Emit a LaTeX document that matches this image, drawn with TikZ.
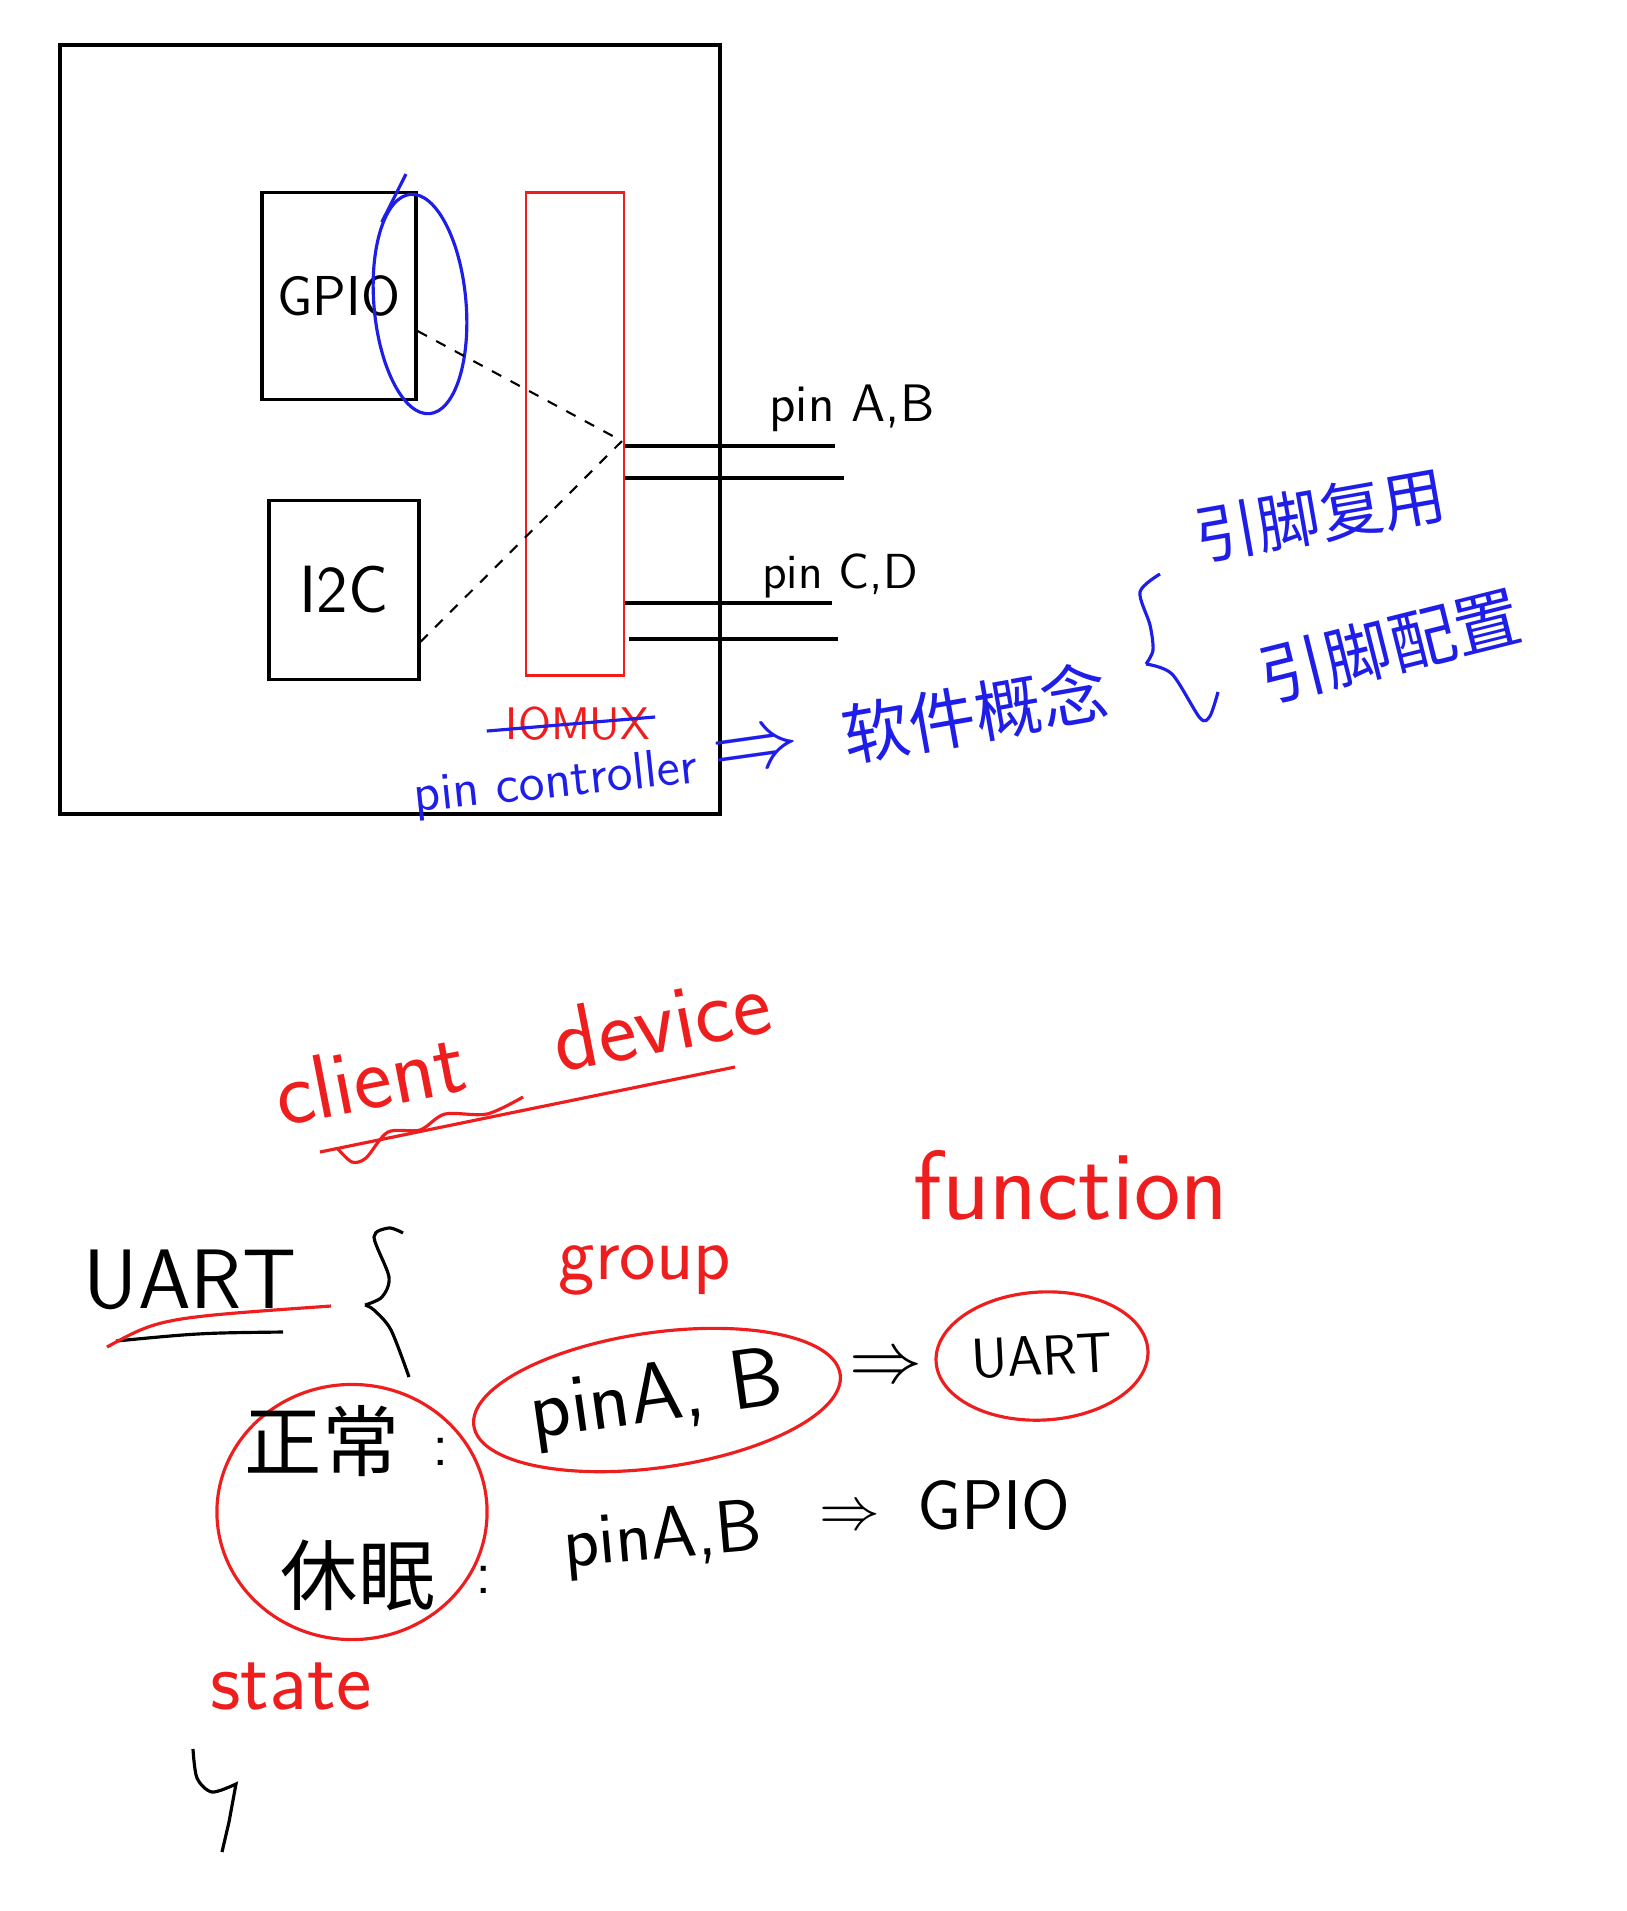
\documentclass[tikz,border=0pt]{standalone}
\usepackage{fontspec}
\newfontfamily\cjk{Noto Sans CJK SC}
\usetikzlibrary{shapes.geometric}
\definecolor{penred}{RGB}{238,30,30}
\definecolor{penblue}{RGB}{30,30,232}
\tikzset{every path/.style={line width=0.9pt}}
\tikzset{
  hand/.style={font=\sffamily\fontsize{#1}{#1}\selectfont, inner sep=1pt},
  han/.style={font=\cjk\fontsize{#1}{#1}\selectfont, inner sep=1pt},
  blockbox/.style={draw, inner sep=0pt, hand=16},
  redring/.style={draw=penred, ellipse, inner sep=0pt},
  dotline/.style={line width=0.6pt, dash pattern=on 3pt off 3pt},
}

\begin{document}
\begin{tikzpicture}[x=0.01cm, y=-0.01cm]
\useasboundingbox (0,0) rectangle (1627,1911);

\draw (60,45) rectangle (720,814);
\node[blockbox, minimum width=1.54cm, minimum height=2.07cm] (gpio) at (339,296) {GPIO};
\node[blockbox, minimum width=1.50cm, minimum height=1.79cm, hand=19] (i2c) at (344,590) {I2C};
\node[draw=penred, line width=0.7pt, minimum width=0.98cm, minimum height=4.83cm] (mux) at (575,434) {};
\node[draw=penblue, ellipse, minimum width=0.92cm, minimum height=2.2cm, rotate=5] (sel) at (420,304) {};
\draw[penblue] (sel.110) -- (406,174);

\coordinate (hub) at (622,441);
\draw[dotline] (gpio.-24) -- (hub) -- (i2c.-34);

\draw (mux.east) ++(0,12) -- ++(210,0);
\draw (mux.east) ++(0,44) -- ++(219,0);
\draw (mux.east) ++(0,169) -- ++(207,0);
\draw (mux.east) ++(4,205) -- ++(209,0);
\node[hand=15] (pinab) at (852,408) {pin A,B};
\node[hand=14] (pincd) at (840,576) {pin C,D};

\node[hand=13, text=penred] (iomux) at (578,724) {IOMUX};
\draw[penblue] ([xshift=-4pt,yshift=-2pt]iomux.west) -- ([yshift=2pt]iomux.east);
\node[hand=15, text=penblue, rotate=6] (pctl) at (556,784) {pin controller};
\node[text=penblue, font=\fontsize{24}{24}\selectfont, rotate=8] (imp) at (757,753) {$\Rightarrow$};
\node[han=19, text=penblue, rotate=10] (soft) at (975,713) {软件概念};
\draw[penblue] plot[smooth] coordinates {(1160,574) (1140,592) (1150,625) (1153,650) (1146,664)};
\draw[penblue] plot[smooth] coordinates {(1146,664) (1172,674) (1200,718) (1210,716) (1218,692)};
\node[han=18, text=penblue, rotate=10] (mux1) at (1320,515) {引脚复用};
\node[han=19, text=penblue, rotate=14] (mux2) at (1390,646) {引脚配置};

\node[hand=26, text=penred, rotate=11] (cdev) at (522,1048) {client\quad device};
\draw[penred] (320,1152) -- (735,1067);
\draw[penred] plot[smooth] coordinates {(338,1149) (352,1162) (366,1158) (388,1132) (420,1130) (445,1114) (487,1114) (523,1097)};

\node[hand=24] (uart) at (190,1280) {UART};
\draw (116,1341) .. controls (200,1333) .. (283,1332);
\draw[penred] (107,1347) .. controls (160,1318) .. (331,1306);
\draw plot[smooth] coordinates {(403,1233) (389,1228) (374,1237) (389,1277) (382,1297) (365,1305)};
\draw plot[smooth] coordinates {(365,1305) (374,1310) (391,1330) (409,1377)};

\node[hand=22, text=penred] (grp) at (645,1270) {group};
\node[hand=28, text=penred] (fn) at (1071,1185) {function};
\node[redring, hand=24, rotate=8, minimum width=3.0cm, minimum height=1.35cm] (grpab) at (657,1400) {pinA, B};
\node[font=\fontsize{22}{22}\selectfont] (to1) at (886,1369) {$\Rightarrow$};
\node[redring, hand=16, rotate=3, minimum width=2.12cm, minimum height=1.28cm] (fnuart) at (1042,1356) {UART};

\node[redring, minimum width=2.7cm, minimum height=2.55cm] (st) at (352,1512) {};
\node[han=22] (norm) at (322,1441) {正常};
\node[hand=18] (c1) at (441,1452) {:};
\node[han=22] (sleep) at (358,1575) {休眠};
\node[hand=18] (c2) at (484,1580) {:};
\node[hand=21, rotate=5] (slab) at (663,1540) {pinA,B};
\node[font=\fontsize{18}{18}\selectfont] (to2) at (850,1518) {$\Rightarrow$};
\node[hand=20] (slgpio) at (994,1505) {GPIO};

\node[hand=24, text=penred] (stt) at (291,1686) {state};
\draw plot[smooth] coordinates {(193,1749) (197,1778) (212,1792) (236,1784)} -- (229,1822) -- (222,1852);
\end{tikzpicture}
\end{document}
